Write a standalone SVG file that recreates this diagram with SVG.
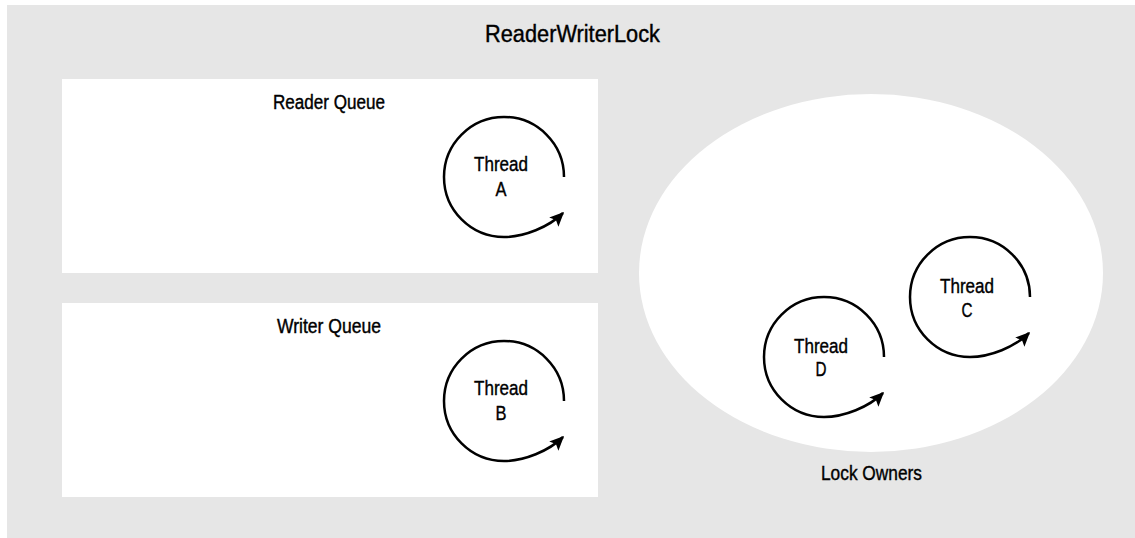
<svg xmlns="http://www.w3.org/2000/svg" width="1135" height="538" viewBox="0 0 1135 538">
<style>
  .lbl { font-family: "Liberation Sans", Arial, sans-serif; fill: #000; stroke: #000; stroke-width: 0.4; text-anchor: middle; }
  .title { font-size: 23.5px; }
  .sec { font-size: 19.5px; }
  .own { font-size: 20.5px; }
  .thr { font-size: 20.5px; }
  .loop { fill: none; stroke: #000; stroke-width: 2.5; marker-end: url(#ah); }
</style>
<defs>
  <marker id="ah" viewBox="-15 -8 17 16" refX="0" refY="0" markerWidth="17" markerHeight="16" markerUnits="userSpaceOnUse" orient="auto">
    <path d="M1.5,0 L-13,-6.5 L-10,0 L-13,6.5 Z" fill="#000"/>
  </marker>
</defs>

<g id="ReaderWriterLock">
  <rect x="7" y="5" width="1128" height="533" fill="#e6e6e6"/>
  <text class="lbl title" x="572.5" y="42" textLength="175" lengthAdjust="spacingAndGlyphs">ReaderWriterLock</text>
</g>

<g id="ReaderQueue">
  <rect x="62" y="79" width="536" height="194" fill="#fff"/>
  <text class="lbl sec" x="329" y="109" textLength="112" lengthAdjust="spacingAndGlyphs">Reader Queue</text>
</g>

<g id="WriterQueue">
  <rect x="62" y="303" width="536" height="194" fill="#fff"/>
  <text class="lbl sec" x="329" y="333" textLength="104" lengthAdjust="spacingAndGlyphs">Writer Queue</text>
</g>

<g id="LockOwners">
  <ellipse cx="871" cy="273" rx="232" ry="179" fill="#fff"/>
  <text class="lbl own" x="871.5" y="480" textLength="101" lengthAdjust="spacingAndGlyphs">Lock Owners</text>
</g>

<g id="ThreadA">
  <text class="lbl thr" x="501" y="171" textLength="54" lengthAdjust="spacingAndGlyphs">Thread</text>
  <text class="lbl thr" x="501" y="196" textLength="11" lengthAdjust="spacingAndGlyphs">A</text>
</g>
<g id="ThreadB">
  <text class="lbl thr" x="501" y="395" textLength="54" lengthAdjust="spacingAndGlyphs">Thread</text>
  <text class="lbl thr" x="501" y="420" textLength="11" lengthAdjust="spacingAndGlyphs">B</text>
</g>
<g id="ThreadC">
  <text class="lbl thr" x="967" y="293" textLength="54" lengthAdjust="spacingAndGlyphs">Thread</text>
  <text class="lbl thr" x="967" y="317" textLength="11" lengthAdjust="spacingAndGlyphs">C</text>
</g>
<g id="ThreadD">
  <text class="lbl thr" x="821" y="353" textLength="54" lengthAdjust="spacingAndGlyphs">Thread</text>
  <text class="lbl thr" x="821" y="376" textLength="11" lengthAdjust="spacingAndGlyphs">D</text>
</g>

<g id="connectors">
  <path class="loop" transform="translate(504,177)" d="M60,0 A60,60 0 1 0 0,60 C20,60 45,50 59,36"/>
  <path class="loop" transform="translate(504,401)" d="M60,0 A60,60 0 1 0 0,60 C20,60 45,50 59,36"/>
  <path class="loop" transform="translate(970,297)" d="M60,0 A60,60 0 1 0 0,60 C20,60 45,50 59,36"/>
  <path class="loop" transform="translate(824,357)" d="M60,0 A60,60 0 1 0 0,60 C20,60 45,50 59,36"/>
</g>
</svg>
